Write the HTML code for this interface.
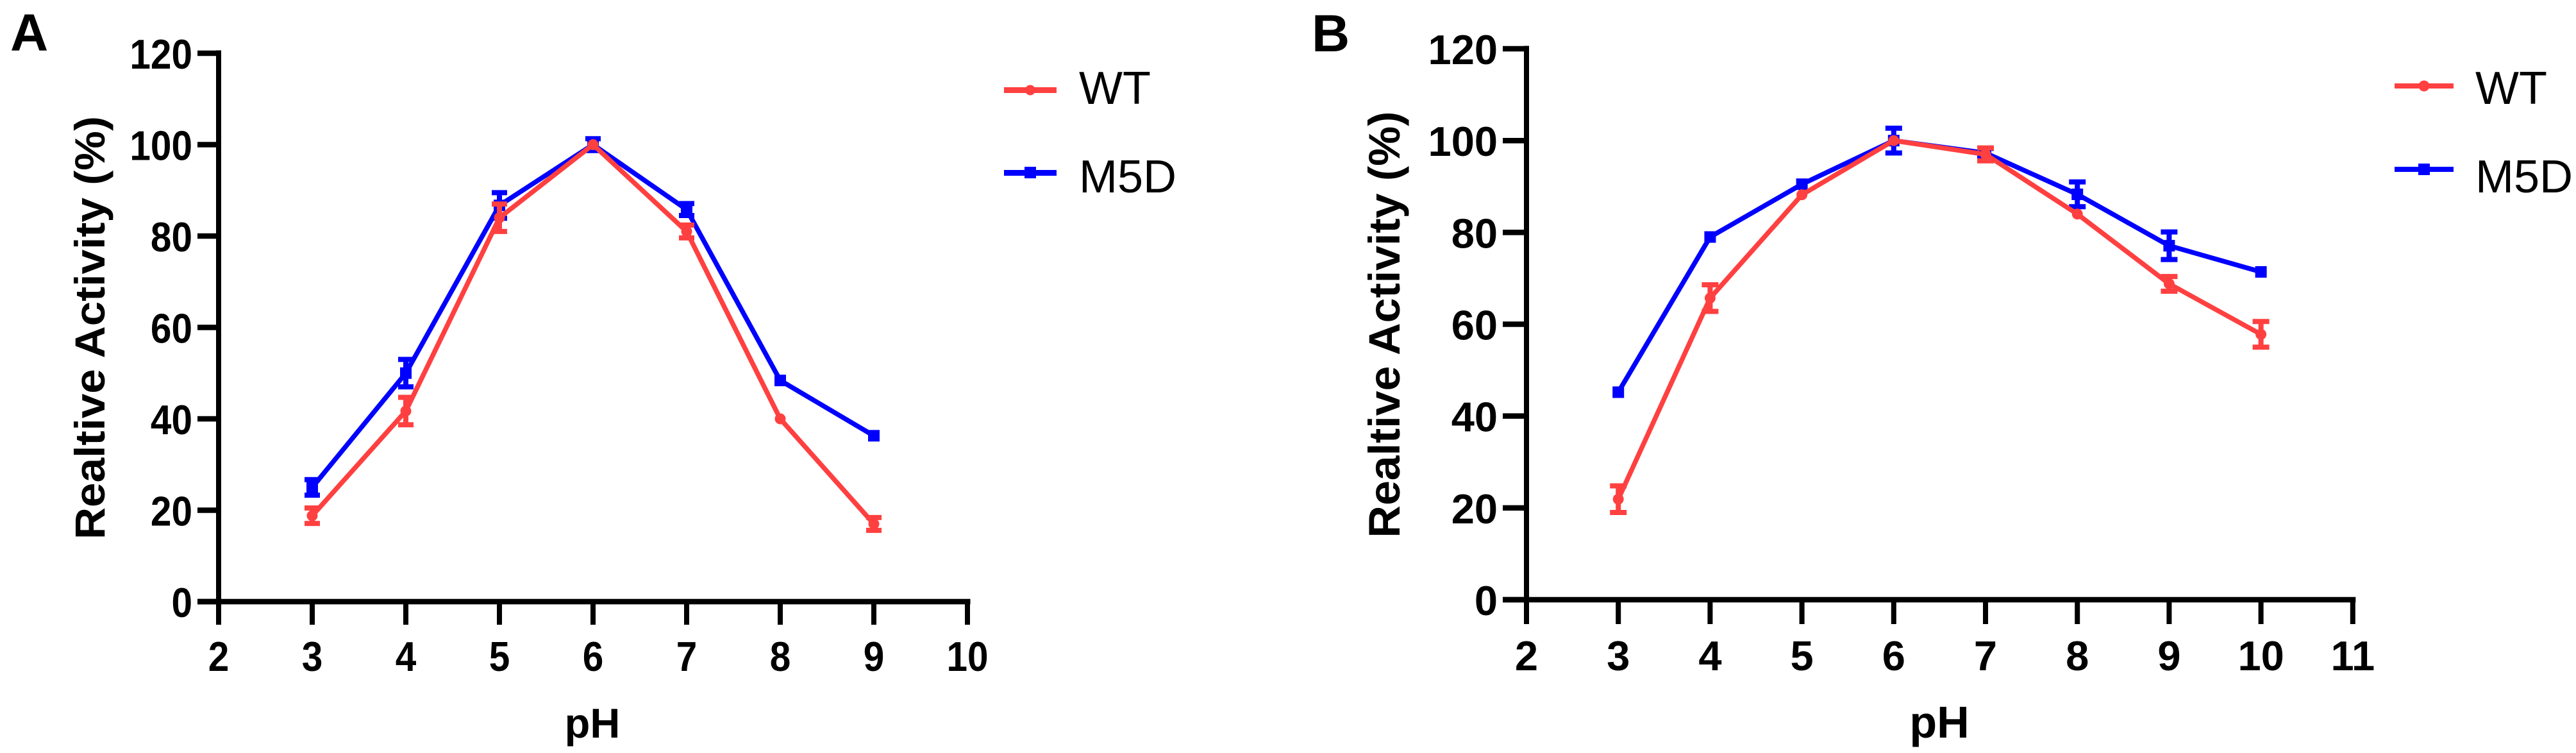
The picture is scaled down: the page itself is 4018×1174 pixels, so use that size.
<!DOCTYPE html>
<html lang="en">
<head>
<meta charset="utf-8">
<title>Relative activity vs pH: WT and M5D</title>
<style>
html,body{margin:0;padding:0;background:#fff;width:4018px;height:1174px;overflow:hidden}
svg{display:block}
text{font-family:"Liberation Sans",Arial,sans-serif;fill:#000}
.b{font-weight:bold}
</style>
</head>
<body>
<svg id="figure" xmlns="http://www.w3.org/2000/svg" width="4018" height="1174" viewBox="0 0 4018 1174">
  <rect x="0" y="0" width="4018" height="1174" fill="#ffffff"/>

  <g id="panel-a">
    <text class="b" x="16" y="79" font-size="82">A</text>
    <text class="b" font-size="66" text-anchor="middle" textLength="660" lengthAdjust="spacingAndGlyphs" transform="translate(163,511) rotate(-90)">Realtive Activity (%)</text>
    <text class="b" font-size="65" text-anchor="middle" x="924" y="1150">pH</text>
    <g>
      <rect x="1566" y="136" width="82" height="9" fill="#ff4040"/>
      <circle cx="1607" cy="140.5" r="8" fill="#ff4040"/>
      <text x="1683" y="162" font-size="72">WT</text>
      <rect x="1566" y="265" width="82" height="9" fill="#0000ff"/>
      <rect x="1598" y="260" width="18" height="18" fill="#0000ff"/>
      <text x="1683" y="300" font-size="72">M5D</text>
    </g>
  </g>

  <g id="panel-b">
    <text class="b" x="2046" y="80" font-size="82">B</text>
    <text class="b" font-size="69" text-anchor="middle" textLength="665" lengthAdjust="spacingAndGlyphs" transform="translate(2183,506) rotate(-90)">Realtive Activity (%)</text>
    <text class="b" font-size="70" text-anchor="middle" x="3025" y="1150">pH</text>
    <g>
      <rect x="3735" y="130" width="92" height="8" fill="#ff4040"/>
      <circle cx="3781" cy="134" r="8.5" fill="#ff4040"/>
      <text x="3861" y="162" font-size="72">WT</text>
      <rect x="3735" y="260" width="92" height="8" fill="#0000ff"/>
      <rect x="3772" y="255" width="18" height="18" fill="#0000ff"/>
      <text x="3861" y="300" font-size="72">M5D</text>
    </g>
  </g>
</svg>

<script>
// Chart data
const yTickLabels = [0, 20, 40, 60, 80, 100, 120];
const xTickLabelsA = [2, 3, 4, 5, 6, 7, 8, 9, 10];
const xTickLabelsB = [2, 3, 4, 5, 6, 7, 8, 9, 10, 11];

const phA = [3, 4, 5, 6, 7, 8, 9];
const wtA = [18.8, 41.7, 84, 100, 81, 40, 17];
const wtErrA = [1.7, 3, 3, 0, 1.4, 0, 1.4];
const m5dA = [25, 50, 86.7, 100, 85.8, 48.4, 36.3];
const m5dErrA = [1.7, 3, 2.8, 1.3, 1.3, 0, 0];

const phB = [3, 4, 5, 6, 7, 8, 9, 10];
const wtB = [21.9, 65.7, 88.2, 100, 97, 84, 68.8, 57.8];
const wtErrB = [2.9, 2.9, 0, 0, 1.4, 0, 1.6, 2.8];
const m5dB = [45.2, 79, 90.5, 100, 97.3, 88.3, 77.1, 71.4];
const m5dErrB = [0, 0, 0, 2.7, 1, 2.7, 3, 0];

const SVG_NS = 'http://www.w3.org/2000/svg';
const RED = '#ff4040';
const BLUE = '#0000ff';

function make(tag, attrs, parent) {
  const el = document.createElementNS(SVG_NS, tag);
  for (const k in attrs) el.setAttribute(k, attrs[k]);
  parent.appendChild(el);
  return el;
}

function drawPanel(cfg) {
  const root = document.getElementById(cfg.id);
  const x = v => cfg.x0 + (v - cfg.xMin) * cfg.xUnit;
  const y = v => cfg.y0 - v * cfg.yUnit;
  const black = '#000000';

  const axes = make('g', {}, root);
  
  

  const yAxis = make('line', {x1: x(cfg.xMin), x2: x(cfg.xMin), y1: y(120) - 4.5, y2: cfg.tickBottom, stroke: black, 'stroke-width': 8}, axes);
  
  

  const xAxis = make('line', {x1: cfg.tickLeft, x2: x(cfg.xMax) + 4.5, y1: cfg.y0, y2: cfg.y0, stroke: black, 'stroke-width': 8.5}, axes);
  
  

  yTickLabels.forEach(v => {
    const t = make('line', {x1: cfg.tickLeft, x2: x(cfg.xMin), y1: y(v), y2: y(v), stroke: black, 'stroke-width': 8.5}, axes);
    
    
    const l = make('text', {'class': 'b', 'font-size': 65, 'text-anchor': 'end',
      transform: 'translate(' + cfg.yLabelX + ',' + (y(v) + 24) + ') scale(' + cfg.digitScale + ',1)'}, axes);
    
    
    l.textContent = v;
  });

  cfg.xTicks.forEach(v => {
    const t = make('line', {x1: x(v), x2: x(v), y1: cfg.y0, y2: cfg.tickBottom, stroke: black, 'stroke-width': 8}, axes);
    
    
    const l = make('text', {'class': 'b', 'font-size': 65, 'text-anchor': 'middle',
      transform: 'translate(' + x(v) + ',' + cfg.xLabelY + ') scale(' + cfg.digitScale + ',1)'}, axes);
    
    
    l.textContent = v;
  });

  cfg.series.forEach(s => {
    const g = make('g', {}, root);
    
    

    const pts = cfg.ph.map((p, i) => x(p) + ',' + y(s.values[i])).join(' ');
    const line = make('polyline', {points: pts, fill: 'none', stroke: s.color, 'stroke-width': 7.5, 'stroke-linejoin': 'miter'}, g);
    
    

    cfg.ph.forEach((p, i) => {
      const cx = x(p);
      if (s.errors[i] > 0) {
        const hi = y(s.values[i] + s.errors[i]);
        const lo = y(s.values[i] - s.errors[i]);
        const stem = make('line', {x1: cx, x2: cx, y1: hi, y2: lo, stroke: s.color, 'stroke-width': 8}, g);
        
        
        const capTop = make('line', {x1: cx - cfg.capHalf, x2: cx + cfg.capHalf, y1: hi, y2: hi, stroke: s.color, 'stroke-width': 8}, g);
        
        
        const capBottom = make('line', {x1: cx - cfg.capHalf, x2: cx + cfg.capHalf, y1: lo, y2: lo, stroke: s.color, 'stroke-width': 8}, g);
        
        
      }

      let marker;
      if (s.shape === 'circle') {
        marker = make('circle', {cx: cx, cy: y(s.values[i]), r: 8.5, fill: s.color}, g);
      } else {
        marker = make('rect', {x: cx - 9, y: y(s.values[i]) - 9, width: 18, height: 18, fill: s.color}, g);
      }
      
      
    });
  });
}

drawPanel({
  id: 'panel-a', x0: 341, xMin: 2, xMax: 10, xUnit: 146, y0: 938, yUnit: 7.125,
  tickLeft: 308, tickBottom: 974, yLabelX: 300, xLabelY: 1046, digitScale: 0.9, capHalf: 12,
  xTicks: xTickLabelsA, ph: phA,
  series: [
    {name: 'm5d', color: BLUE, shape: 'square', values: m5dA, errors: m5dErrA},
    {name: 'wt', color: RED, shape: 'circle', values: wtA, errors: wtErrA}
  ]
});

drawPanel({
  id: 'panel-b', x0: 2381, xMin: 2, xMax: 11, xUnit: 143.2, y0: 935, yUnit: 7.158,
  tickLeft: 2344, tickBottom: 973, yLabelX: 2336, xLabelY: 1045, digitScale: 1, capHalf: 13,
  xTicks: xTickLabelsB, ph: phB,
  series: [
    {name: 'm5d', color: BLUE, shape: 'square', values: m5dB, errors: m5dErrB},
    {name: 'wt', color: RED, shape: 'circle', values: wtB, errors: wtErrB}
  ]
});
</script>
</body>
</html>
